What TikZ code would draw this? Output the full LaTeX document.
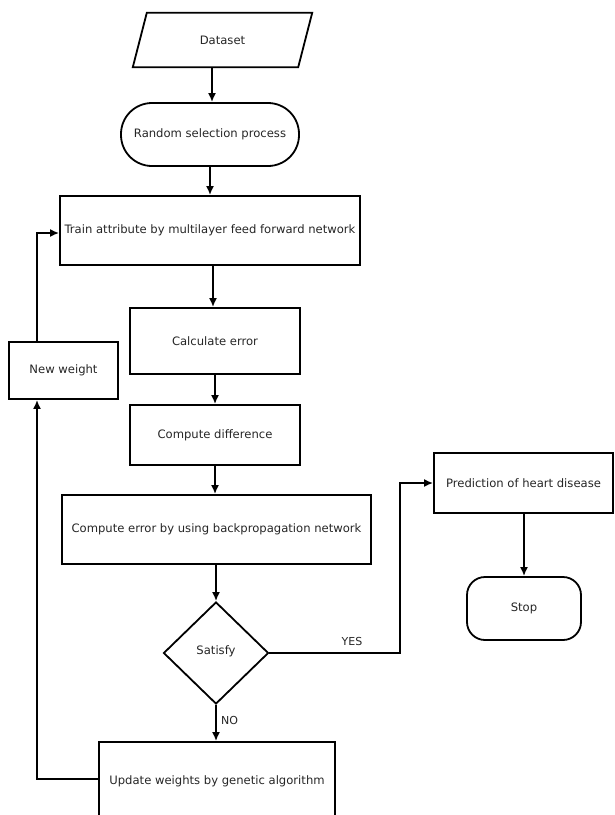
\documentclass[tikz,border=0pt]{standalone}
\usepackage{fontspec}
\setmainfont{DejaVu Sans}
\usetikzlibrary{shapes.geometric,arrows.meta}
\begin{document}
\begin{tikzpicture}[x=1pt,y=-1pt,
  every node/.style={font=\fontsize{11.6}{13}\selectfont, text=black!85, inner sep=0pt},
  box/.style={draw=black, line width=1.8pt, rectangle},
  term/.style={draw=black, line width=1.8pt, rectangle},
  dec/.style={draw=black, line width=1.8pt, diamond},
  arr/.style={line width=1.8pt, -{Latex[length=9pt,width=8pt]}},
  lbl/.style={font=\fontsize{11}{13}\selectfont}]
\useasboundingbox (0,0) rectangle (614,815);
\fill[white] (0,0) rectangle (614,815);
% nodes
\node (ds) [minimum width=179pt, minimum height=54pt] at (222.5,40) {Dataset};
\draw[line width=1.8pt] ([xshift=14pt]ds.north west) -- (ds.north east) -- ([xshift=-14pt]ds.south east) -- (ds.south west) -- cycle;
\node (rs) [term, rounded corners=31pt, minimum width=178pt, minimum height=63pt] at (210,134.5) {Random selection process};
\node (tr) [box, minimum width=300pt, minimum height=69pt] at (210,230.5) {Train attribute by multilayer feed forward network};
\node (ce) [box, minimum width=170pt, minimum height=66pt] at (215,341) {Calculate error};
\node (nw) [box, minimum width=109pt, minimum height=57pt] at (63.5,370.5) {New weight};
\node (cd) [box, minimum width=170pt, minimum height=60pt] at (215,435) {Compute difference};
\node (bp) [box, minimum width=309pt, minimum height=69pt] at (216.5,529.5) {Compute error by using backpropagation network};
\node (sat) [dec, minimum width=105pt, minimum height=102pt] at (216,653) {\raisebox{5pt}{Satisfy}};
\node (up) [box, minimum width=236pt, minimum height=78pt] at (217,781) {Update weights by genetic algorithm};
\node (pr) [box, minimum width=179pt, minimum height=60pt] at (523.5,483) {Prediction of heart disease};
\node (st) [term, rounded corners=18pt, minimum width=114pt, minimum height=63pt] at (524,608.5) {Stop};
\coordinate (lx) at (37,0);
\coordinate (yx) at (400,0);
\coordinate (c1) at (212,0);
\coordinate (c2) at (213,0);
% connectors
\draw[arr] (c1 |- ds.south) -- (c1 |- rs.north);
\draw[arr] (rs.south) -- (rs.south |- tr.north);
\draw[arr] (c2 |- tr.south) -- (c2 |- ce.north);
\draw[arr] (ce.south) -- (cd.north);
\draw[arr] (cd.south) -- (cd.south |- bp.north);
\draw[arr] (bp.south -| sat.north) -- (sat.north);
\draw[arr] (sat.south) -- (sat.south |- up.north);
\draw[arr] ([yshift=2pt]up.west) -- ([yshift=2pt]up.west -| lx) -- (lx |- nw.south);
\draw[arr] (lx |- nw.north) -- (lx |- 0,233) -- (tr.west |- 0,233);
\draw[arr] (sat.east) -- (sat.east -| yx) |- (pr.west);
\draw[arr] (pr.south -| st.north) -- (st.north);
% labels
\node (yes) [lbl] at (352,641) {YES};
\node (no) [lbl, anchor=west] at (221,720) {NO};
\end{tikzpicture}
\end{document}
